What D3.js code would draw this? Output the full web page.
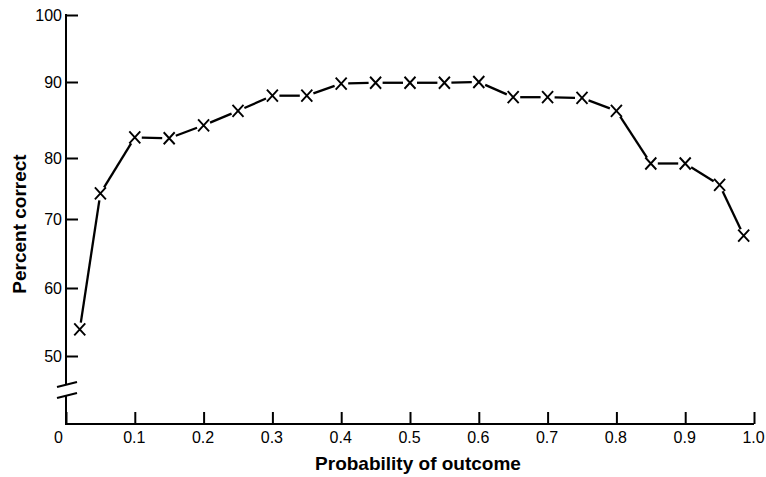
<!DOCTYPE html>
<html>
<head>
<meta charset="utf-8">
<script src="https://cdn.jsdelivr.net/npm/d3@7"></script>
<style>
  body { margin: 0; background: #fff; }
  svg { display: block; font-family: "Liberation Sans", Arial, sans-serif; }
  .tick text { font-size: 16px; fill: #000; }
  .title { font-size: 19px; font-weight: bold; fill: #000; }
</style>
</head>
<body>
<script>
// values
var probability = [0.02, 0.05, 0.1, 0.15, 0.2, 0.25, 0.3, 0.35, 0.4, 0.45, 0.5,
                   0.55, 0.6, 0.65, 0.7, 0.75, 0.8, 0.85, 0.9, 0.95, 0.985];
var percentCorrect = [53.9, 74.2, 82.7, 82.6, 84.3, 86.2, 88.2, 88.2, 89.8, 89.9, 89.9,
                      89.9, 90, 88, 88, 87.9, 86.2, 79.1, 79.1, 75.6, 67.6];
var xTicks = [0, 0.1, 0.2, 0.3, 0.4, 0.5, 0.6, 0.7, 0.8, 0.9, 1.0];
var yTicks = [50, 60, 70, 80, 90, 100];

var width = 766, height = 477;
var axisY = 424;   // baseline of x axis

var svg = d3.select("body").append("svg")
    .attr("width", width).attr("height", height);

var x = d3.scaleLinear().domain([0, 1]).range([66, 754]);
// the printed axis is hand drawn, tick spacing is a little uneven
var y = d3.scaleLinear().domain(yTicks).range([356, 288, 219, 158, 82, 15]);

// y axis
var gy = svg.append("g").attr("transform", "translate(" + x(0) + ",0)")
    .call(d3.axisLeft(y).tickValues(yTicks).tickSizeInner(-12).tickSizeOuter(0).tickPadding(4));
gy.select(".domain").remove();
gy.selectAll(".tick line").attr("stroke", "#000").attr("stroke-width", 2);
gy.selectAll(".tick text").attr("dy", "0.36em");

// x axis
var gx = svg.append("g").attr("transform", "translate(0," + axisY + ")")
    .call(d3.axisBottom(x).tickValues(xTicks).tickSizeInner(-12).tickSizeOuter(0).tickPadding(8)
      .tickFormat(function(d){ return d === 0 ? "0" : d.toFixed(1); }));
gx.select(".domain").remove();
gx.selectAll(".tick line").attr("stroke", "#000").attr("stroke-width", 2);
gx.selectAll(".tick text").attr("dx", function(d){ return d === 0 ? -8 : -1; });

// axis lines, with the break below 50
var breakTop = y(50) + 28, breakBot = y(50) + 40;
var axes = svg.append("g").attr("stroke", "#000").attr("stroke-width", 2).attr("fill", "none");
axes.append("line").attr("x1", x(0)).attr("x2", x(0)).attr("y1", y(100) - 1).attr("y2", breakTop);
axes.append("line").attr("x1", x(0)).attr("x2", x(0)).attr("y1", breakBot).attr("y2", axisY + 1);
axes.append("line").attr("x1", x(0) - 1).attr("x2", x(1)).attr("y1", axisY).attr("y2", axisY);
axes.append("line").attr("x1", x(0) - 9).attr("x2", x(0) + 11).attr("y1", breakTop + 3).attr("y2", breakTop - 2);
axes.append("line").attr("x1", x(0) - 9).attr("x2", x(0) + 11).attr("y1", breakBot + 2).attr("y2", breakBot - 3);

// data line, segments trimmed short of each marker
var pts = probability.map(function(p, i){ return [x(p), y(percentCorrect[i])]; });
var trim = 7;
var lines = svg.append("g").attr("stroke", "#000").attr("stroke-width", 2.3);
for (var i = 0; i < pts.length - 1; i++) {
  var a = pts[i], b = pts[i + 1];
  var dx = b[0] - a[0], dy = b[1] - a[1], len = Math.sqrt(dx * dx + dy * dy);
  var ux = dx / len, uy = dy / len;
  lines.append("line")
    .attr("x1", a[0] + ux * trim).attr("y1", a[1] + uy * trim)
    .attr("x2", b[0] - ux * trim).attr("y2", b[1] - uy * trim);
}

// X markers
var m = 6;
svg.append("g").selectAll("path").data(pts).enter().append("path")
  .attr("d", function(d){
    return "M" + (d[0] - m + 0.5) + "," + (d[1] - m) + "L" + (d[0] + m - 0.5) + "," + (d[1] + m) +
           "M" + (d[0] - m + 0.5) + "," + (d[1] + m) + "L" + (d[0] + m - 0.5) + "," + (d[1] - m);
  })
  .attr("stroke", "#000").attr("stroke-width", 1.9).attr("fill", "none");

// titles
svg.append("text").attr("class", "title")
  .attr("x", 418).attr("y", 470).attr("text-anchor", "middle")
  .text("Probability of outcome");
svg.append("text").attr("class", "title")
  .attr("transform", "translate(26,224) rotate(-90)").attr("text-anchor", "middle")
  .text("Percent correct");
</script>
</body>
</html>
